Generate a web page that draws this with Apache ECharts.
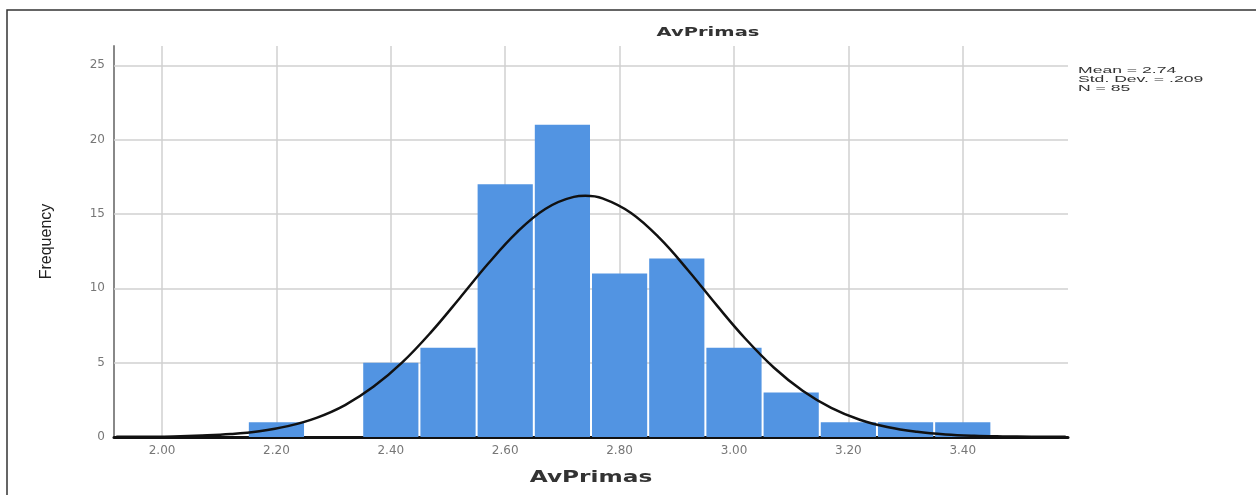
<!DOCTYPE html>
<html lang="en">
<head>
	<meta charset="UTF-8">
	<title>AvPrimas</title>
	<script src="https://cdn.jsdelivr.net/npm/echarts@6/dist/echarts.min.js"></script>
	<style>
		html, body { margin: 0; padding: 0; background: #fff; }
		#echart { width: 1256px; height: 495px; }
	</style>
</head>
<body>
	<div id="echart"></div>
	<script>
	// histogram bins (lower edge) and counts, bin width 0.1
	var binStarts = [2.15, 2.35, 2.45, 2.55, 2.65, 2.75, 2.85, 2.95, 3.05, 3.15, 3.25, 3.35];
	var binCounts = [1, 5, 6, 17, 21, 11, 12, 6, 3, 1, 1, 1];
	var binWidth = 0.1;

	// normal curve, values
	var curveX = [1.92, 1.97, 2.02, 2.07, 2.12, 2.17, 2.22, 2.27, 2.32, 2.37, 2.42, 2.47, 2.52, 2.57, 2.62, 2.67, 2.72, 2.74,
		2.77, 2.82, 2.87, 2.92, 2.97, 3.02, 3.07, 3.12, 3.17, 3.22, 3.27, 3.32, 3.37, 3.42, 3.47, 3.52, 3.58];
	var curveY = [0.01, 0.02, 0.04, 0.1, 0.2, 0.39, 0.73, 1.29, 2.15, 3.39, 5.02, 7.04, 9.32, 11.65, 13.75, 15.34, 16.15, 16.22,
		16.05, 15.07, 13.37, 11.2, 8.85, 6.61, 4.66, 3.11, 1.96, 1.16, 0.65, 0.35, 0.17, 0.08, 0.04, 0.02, 0.01];

	var xTicks = [2.0, 2.2, 2.4, 2.6, 2.8, 3.0, 3.2, 3.4];
	var yTicks = [5, 10, 15, 20, 25];
	var statLines = ['Mean = 2.74', 'Std. Dev. = .209', 'N = 85'];

	var barData = [];
	for (var i = 0; i < binStarts.length; i++) {
		barData.push([binStarts[i], binStarts[i] + binWidth, binCounts[i]]);
	}
	var lineData = [];
	for (var i = 0; i < curveX.length; i++) {
		lineData.push([curveX[i], curveY[i]]);
	}
	var gridMarks = [];
	for (var i = 0; i < xTicks.length; i++) gridMarks.push({ xAxis: xTicks[i] });
	for (var i = 0; i < yTicks.length; i++) gridMarks.push({ yAxis: yTicks[i] });

	function renderBar(params, api) {
		var p0 = api.coord([api.value(0), api.value(2)]);
		var p1 = api.coord([api.value(1), 0]);
		return {
			type: 'rect',
			shape: { x: p0[0] + 1, y: p0[1], width: p1[0] - p0[0] - 2, height: p1[1] - p0[1] },
			style: { fill: '#5294e2' }
		};
	}

	var option = {
		animation: false,
		grid: { left: 114, right: 188, top: 46, bottom: 58 },
		xAxis: {
			type: 'value',
			min: 1.916,
			max: 3.584,
			axisLine: { lineStyle: { color: '#111', width: 3 } },
			axisTick: { show: false },
			splitLine: { show: false },
			axisLabel: {
				customValues: xTicks,
				formatter: function (v) { return v.toFixed(2); },
				fontFamily: 'DejaVu Sans',
				fontSize: 12,
				color: '#777',
				margin: 8
			}
		},
		yAxis: {
			type: 'value',
			min: 0,
			max: 26.3,
			interval: 5,
			name: 'Frequency',
			nameLocation: 'middle',
			nameGap: 59,
			nameTextStyle: { fontFamily: 'Liberation Sans', fontSize: 16, color: '#222' },
			axisLine: { show: true, lineStyle: { color: '#888', width: 2 } },
			axisTick: { show: false },
			splitLine: { show: false },
			axisLabel: {
				showMaxLabel: false,
				fontFamily: 'DejaVu Sans',
				fontSize: 12,
				color: '#777',
				margin: 9
			}
		},
		graphic: [
			{
				type: 'rect',
				shape: { x: 7, y: 10, width: 1300, height: 520 },
				style: { fill: 'none', stroke: '#333', lineWidth: 1.5 },
				silent: true
			},
			{
				// chart title, wide lettering as in the source
				type: 'text',
				x: 708,
				y: 33,
				scaleX: 1.5,
				style: {
					text: 'AvPrimas',
					fontFamily: 'DejaVu Sans',
					fontWeight: 'bold',
					fontSize: 13,
					fill: '#333',
					textAlign: 'center',
					textVerticalAlign: 'middle'
				}
			},
			{
				// x axis title
				type: 'text',
				x: 591,
				y: 478,
				scaleX: 1.55,
				style: {
					text: 'AvPrimas',
					fontFamily: 'DejaVu Sans',
					fontWeight: 'bold',
					fontSize: 15,
					fill: '#333',
					textAlign: 'center',
					textVerticalAlign: 'middle'
				}
			},
			{
				type: 'text',
				x: 1078,
				y: 66,
				scaleX: 1.85,
				style: {
					text: statLines.join('\n'),
					fontFamily: 'Liberation Sans',
					fontSize: 9.5,
					lineHeight: 9,
					fill: '#333'
				}
			}
		],
		series: [
			{
				type: 'line',
				data: [],
				silent: true,
				markLine: {
					z: 1,
					silent: true,
					symbol: 'none',
					label: { show: false },
					lineStyle: { color: '#d0d0d0', width: 1.5, type: 'solid' },
					data: gridMarks
				}
			},
			{
				type: 'custom',
				z: 2,
				renderItem: renderBar,
				encode: { x: [0, 1], y: 2 },
				data: barData
			},
			{
				type: 'line',
				z: 3,
				data: lineData,
				smooth: 0.4,
				showSymbol: false,
				lineStyle: { color: '#111', width: 2.5 }
			}
		]
	};

	var mychart = echarts.init(document.getElementById('echart'));
	mychart.setOption(option);
	</script>
</body>
</html>
